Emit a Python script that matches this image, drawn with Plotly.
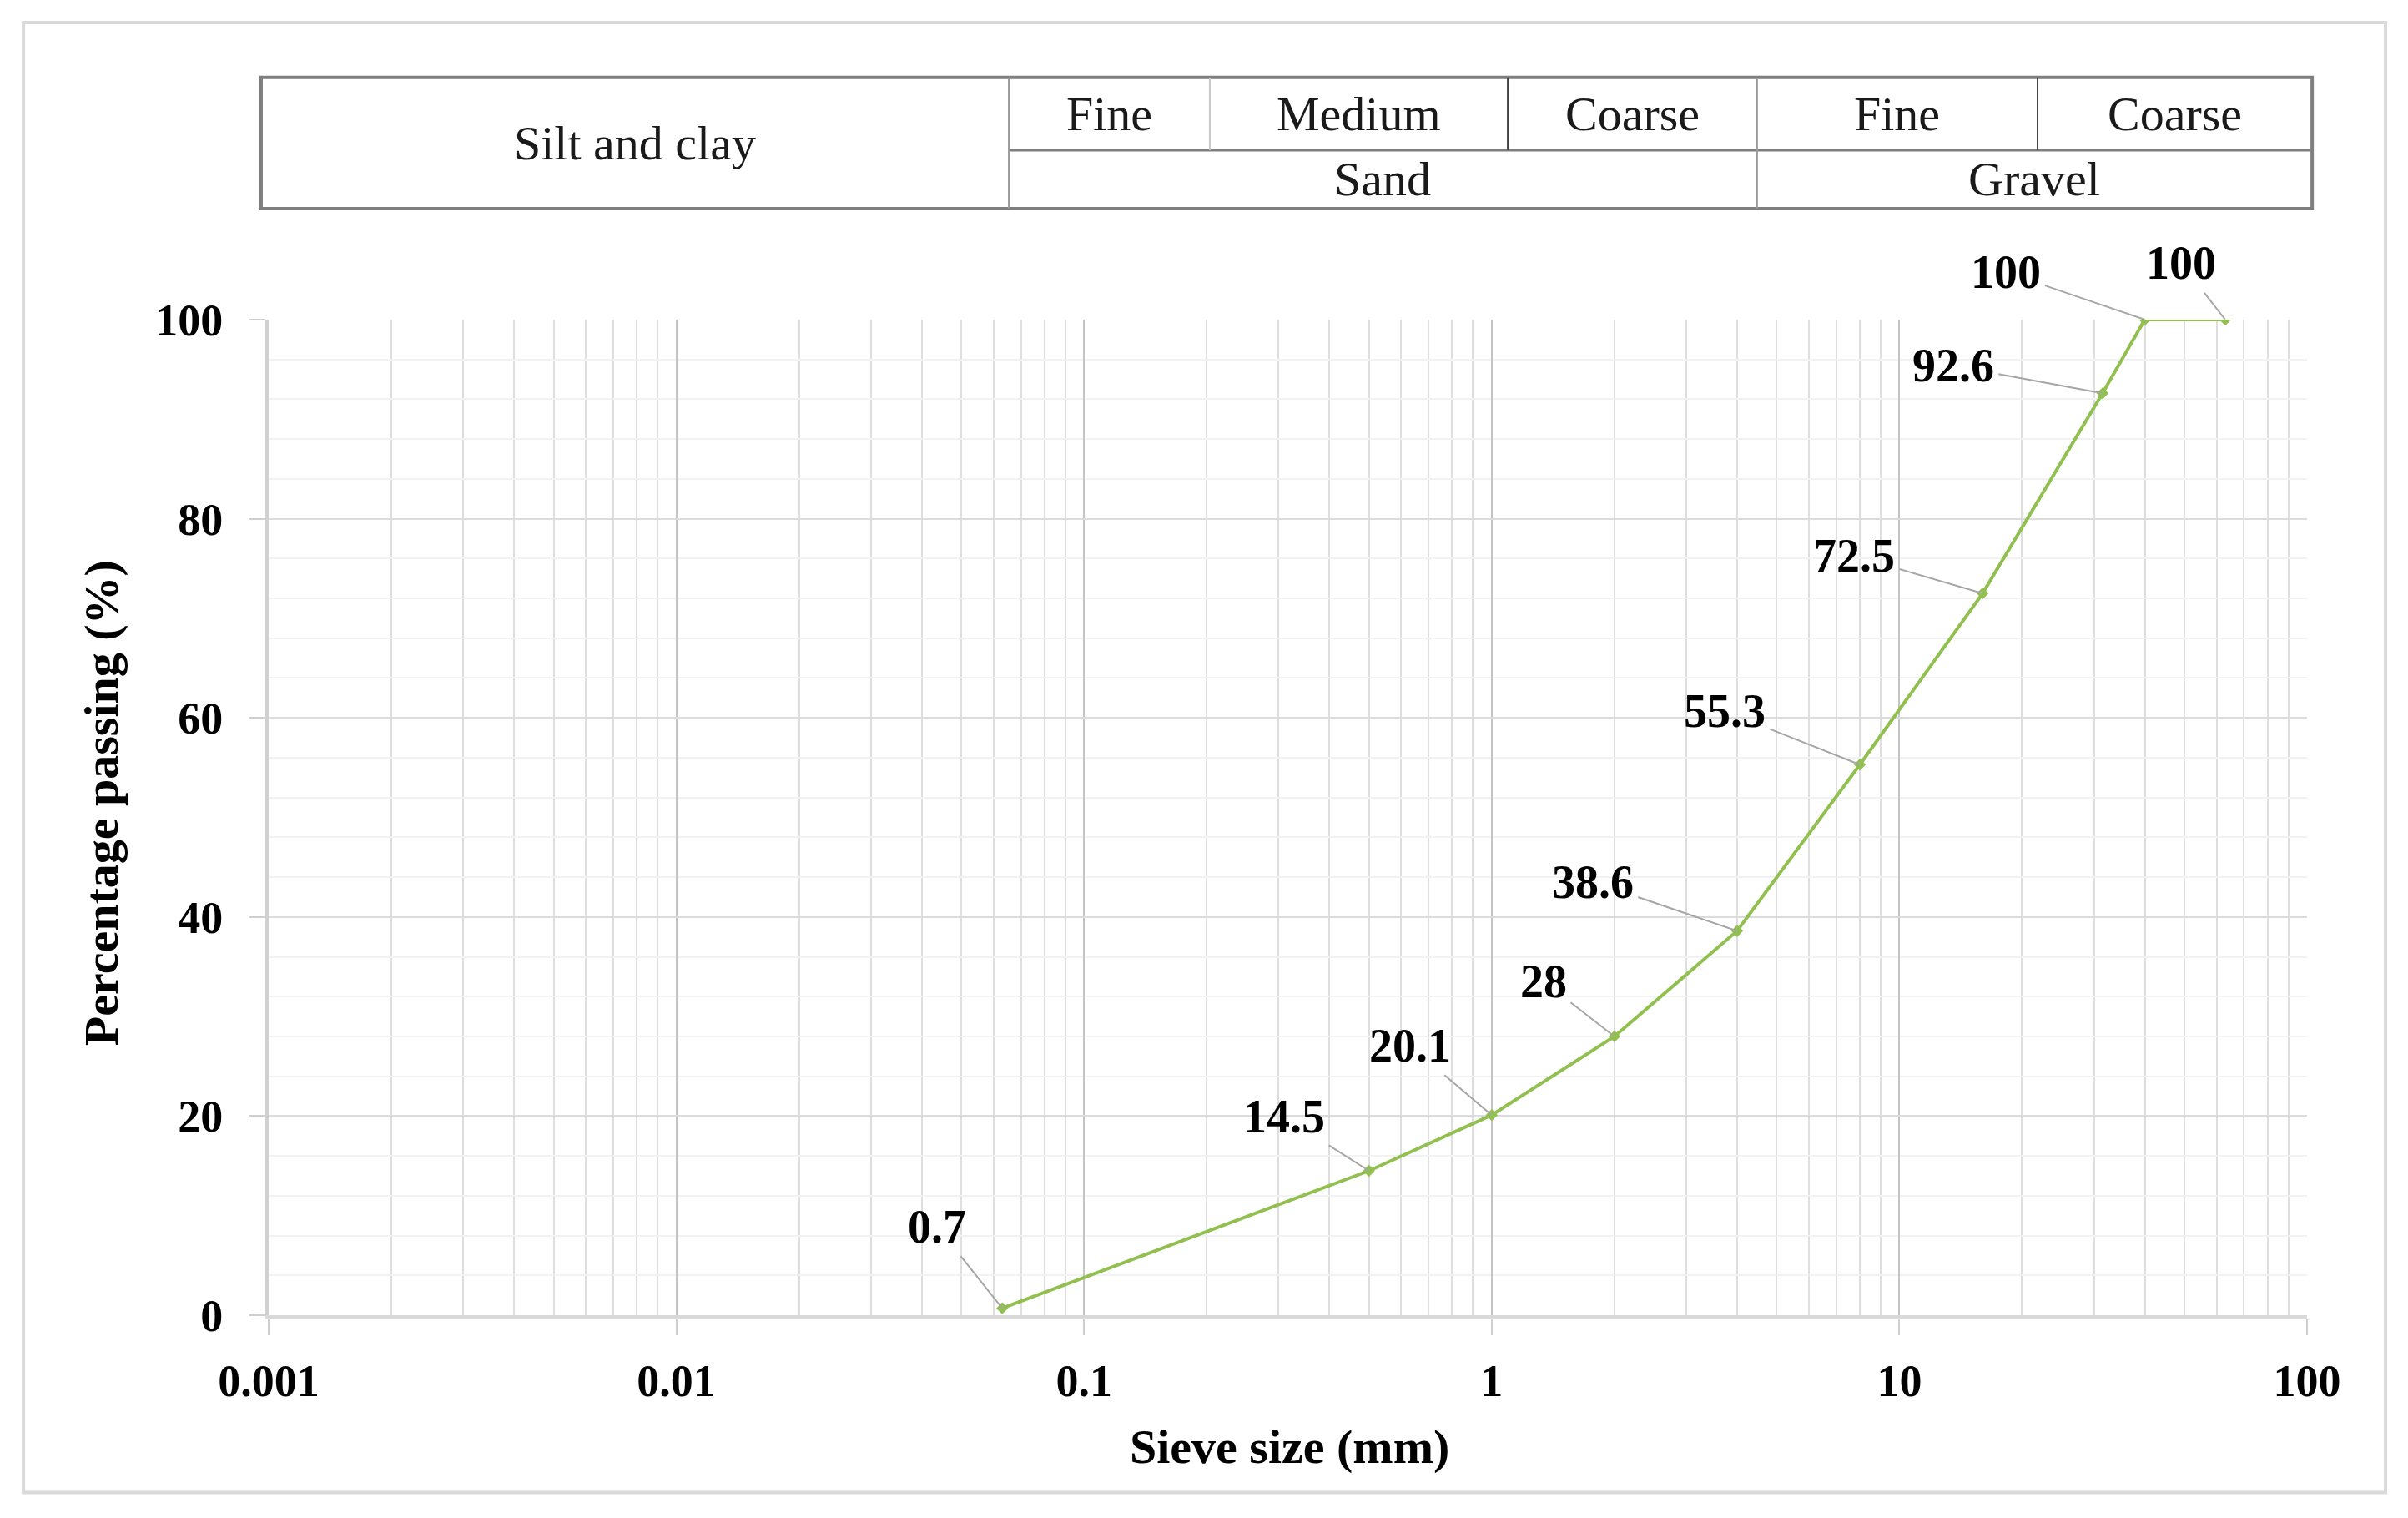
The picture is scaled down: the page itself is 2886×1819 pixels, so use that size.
import numpy as np
import plotly.graph_objects as go

# sieve analysis data
sieve_mm = [0.063, 0.5, 1, 2, 4, 8, 16, 31.5, 40, 63]
passing = [0.7, 14.5, 20.1, 28, 38.6, 55.3, 72.5, 92.6, 100, 100]
point_labels = ["0.7", "14.5", "20.1", "28", "38.6", "55.3", "72.5", "92.6", "100", "100"]

# label offsets in px (leader lines like the Excel data labels)
label_dx = [-78, -102, -98, -85, -173, -162, -154, -179, -167, -53]
label_dy = [-98, -65, -83, -66, -59, -64, -45, -33, -57, -68]

x_tick_vals = [0.001, 0.01, 0.1, 1, 10, 100]
x_tick_text = ["0.001", "0.01", "0.1", "1", "10", "100"]

# classification table above the chart
table_top = ["Fine", "Medium", "Coarse", "Fine", "Coarse"]
table_bottom = ["Sand", "Gravel"]
table_left = "Silt and clay"

SERIF = "Liberation Serif"
GREEN = "#92c050"

fig = go.Figure()

fig.add_trace(go.Scatter(
    x=sieve_mm,
    y=passing,
    mode="lines+markers",
    line=dict(color=GREEN, width=4),
    marker=dict(symbol="diamond", size=11, color=GREEN),
    showlegend=False,
    hoverinfo="x+y",
))

annotations = []
for s, p, t, dx, dy in zip(sieve_mm, passing, point_labels, label_dx, label_dy):
    annotations.append(dict(
        x=np.log10(s), y=p, xref="x", yref="y",
        text=f"<b>{t}</b>",
        showarrow=True, arrowhead=0, arrowwidth=2, arrowcolor="#a6a6a6",
        standoff=0, startstandoff=4,
        ax=dx, ay=dy,
        font=dict(family=SERIF, size=56, color="black"),
    ))

# axis titles placed as annotations (the y title sits a little above centre)
annotations.append(dict(x=0.501, y=-0.132, xref="paper", yref="paper",
                        text="<b>Sieve size (mm)</b>", showarrow=False,
                        xanchor="center", yanchor="middle",
                        font=dict(family=SERIF, size=58, color="black")))
annotations.append(dict(x=-0.0823, y=0.5145, xref="paper", yref="paper",
                        text="<b>Percentage passing (%)</b>", showarrow=False,
                        textangle=-90, xanchor="center", yanchor="middle",
                        font=dict(family=SERIF, size=58, color="black")))

# table geometry in paper coords
t_y0, t_ymid, t_y1 = 1.1115, 1.1702, 1.2432
t_x0, t_x1 = -0.0037, 1.0025
x_div = [0.3631, 0.4617, 0.6079, 0.7302, 0.8678]

shapes = []
# outer figure border
shapes.append(dict(type="rect", xref="paper", yref="paper",
                   x0=-0.1203, x1=1.0385, y0=-0.1781, y1=1.2985,
                   line=dict(color="#d9d9d9", width=4), layer="below"))
# table frame
shapes.append(dict(type="rect", xref="paper", yref="paper",
                   x0=t_x0, x1=t_x1, y0=t_y0, y1=t_y1,
                   line=dict(color="#7f7f7f", width=4)))
shapes.append(dict(type="line", xref="paper", yref="paper",
                   x0=x_div[0], x1=t_x1, y0=t_ymid, y1=t_ymid,
                   line=dict(color="#7f7f7f", width=3)))
div_colors = ["#9a9a9a", "#c8c8c8", "#404040", "#9a9a9a", "#404040"]
div_spans = [(t_y0, t_y1), (t_ymid, t_y1), (t_ymid, t_y1), (t_y0, t_y1), (t_ymid, t_y1)]
for xd, c, (ya, yb) in zip(x_div, div_colors, div_spans):
    shapes.append(dict(type="line", xref="paper", yref="paper",
                       x0=xd, x1=xd, y0=ya, y1=yb,
                       line=dict(color=c, width=2)))

cell_font = dict(family=SERIF, size=58, color="#1a1a1a")
cell = dict(xref="paper", yref="paper", showarrow=False,
            xanchor="center", yanchor="middle", font=cell_font)
annotations.append(dict(cell, x=(t_x0 + x_div[0]) / 2, y=(t_y0 + t_y1) / 2, text=table_left))
top_edges = x_div + [t_x1]
for i, t in enumerate(table_top):
    annotations.append(dict(cell, x=(top_edges[i] + top_edges[i + 1]) / 2,
                            y=(t_ymid + t_y1) / 2, text=t))
bottom_edges = [x_div[0], x_div[3], t_x1]
for i, t in enumerate(table_bottom):
    annotations.append(dict(cell, x=(bottom_edges[i] + bottom_edges[i + 1]) / 2,
                            y=(t_y0 + t_ymid) / 2, text=t))

fig.update_layout(
    # page body adds an 8px margin, so the figure is 8px smaller and margins shifted
    width=2878,
    height=1811,
    margin=dict(l=314, r=121, t=375, b=243, autoexpand=False),
    paper_bgcolor="white",
    plot_bgcolor="white",
    font=dict(family=SERIF, color="black"),
    shapes=shapes,
    annotations=annotations,
    xaxis=dict(
        type="log",
        range=[-3, 2],
        tickvals=x_tick_vals,
        ticktext=x_tick_text,
        tickfont=dict(family=SERIF, size=54, color="black", weight="bold"),
        showgrid=True, gridcolor="#c4c4c4", gridwidth=2,
        minor=dict(dtick="D1", showgrid=True, gridcolor="#dedede", gridwidth=1.5, ticks=""),
        showline=True, linecolor="#d9d9d9", linewidth=5,
        ticks="outside", ticklen=19, tickcolor="#cfcfcf", tickwidth=2,
        ticklabelstandoff=8,
        zeroline=False,
    ),
    yaxis=dict(
        range=[0, 100],
        dtick=20,
        tickfont=dict(family=SERIF, size=54, color="black", weight="bold"),
        showgrid=True, gridcolor="#dcdcdc", gridwidth=2,
        minor=dict(dtick=4, showgrid=True, gridcolor="#f2f2f2", gridwidth=2, ticks=""),
        showline=True, linecolor="#d0d0d0", linewidth=4,
        ticks="outside", ticklen=19, tickcolor="#cfcfcf", tickwidth=2,
        ticklabelstandoff=21,
        zeroline=False,
    ),
)

fig.write_html("out.html")
